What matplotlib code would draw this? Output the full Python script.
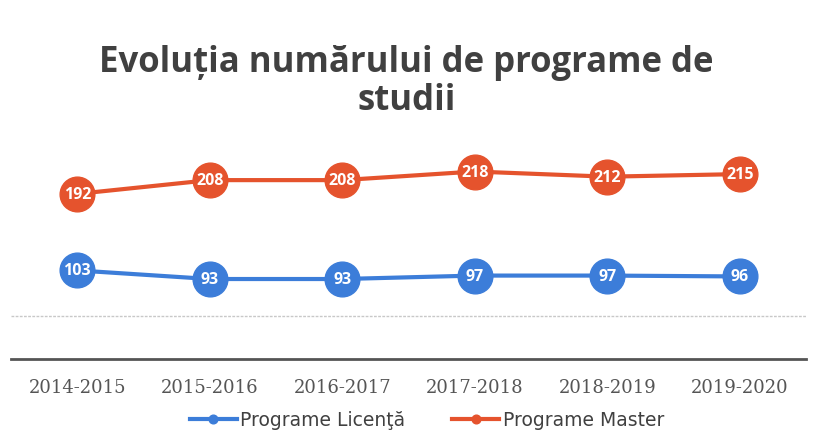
import matplotlib
matplotlib.use("Agg")
import matplotlib.pyplot as plt

years = ["2014-2015", "2015-2016", "2016-2017", "2017-2018", "2018-2019", "2019-2020"]
licenta = [103, 93, 93, 97, 97, 96]
master = [192, 208, 208, 218, 212, 215]

blue = "#3C7DD9"
red = "#E5532D"

fig = plt.figure(figsize=(8.13, 4.35), dpi=100)
ax = fig.add_axes([11 / 813, 1 - 360 / 435, 795 / 813, 215 / 435])

x = range(len(years))
for vals, col, name in [(licenta, blue, "Programe Licenţă"), (master, red, "Programe Master")]:
    ax.plot(x, vals, color=col, lw=3, marker="o", ms=25, mec=col, label=name, zorder=3)
    for xi, v in zip(x, vals):
        ax.text(xi, v, str(v), color="white", fontsize=11.5, fontweight="bold",
                ha="center", va="center", family="Open Sans", zorder=4)

ax.set_xlim(-0.5, len(years) - 0.5)
ax.set_ylim(0, 250)
ax.set_yticks([50])
ax.set_yticklabels([])
ax.tick_params(left=False, bottom=False)
ax.grid(axis="y", color="#c8c8c8", lw=1, ls=(0, (2, 1)))
ax.set_xticks(list(x))
ax.set_xticklabels(years, fontsize=13, color="#555555", family="DejaVu Serif")
ax.tick_params(axis="x", pad=10)
for s in ["left", "right", "top"]:
    ax.spines[s].set_visible(False)
ax.spines["bottom"].set_color("#555555")
ax.spines["bottom"].set_linewidth(2)

fig.text(0.5, 1 - 63 / 435, "Evoluția numărului de programe de", ha="center", va="center",
         fontsize=25, fontweight="bold", color="#404040", family="Open Sans")
fig.text(0.5, 1 - 101 / 435, "studii", ha="center", va="center",
         fontsize=25, fontweight="bold", color="#404040", family="Open Sans")

handles, labels = ax.get_legend_handles_labels()
leg = fig.legend(handles, labels, loc="center", bbox_to_anchor=(427 / 813, 1 - 421 / 435), ncol=2,
                 frameon=False, fontsize=13.5, markerscale=0.25, handlelength=2.5,
                 columnspacing=2.5, handletextpad=0.2)
for t in leg.get_texts():
    t.set_color("#404040")

fig.savefig("out.png", dpi=100, facecolor="white")
